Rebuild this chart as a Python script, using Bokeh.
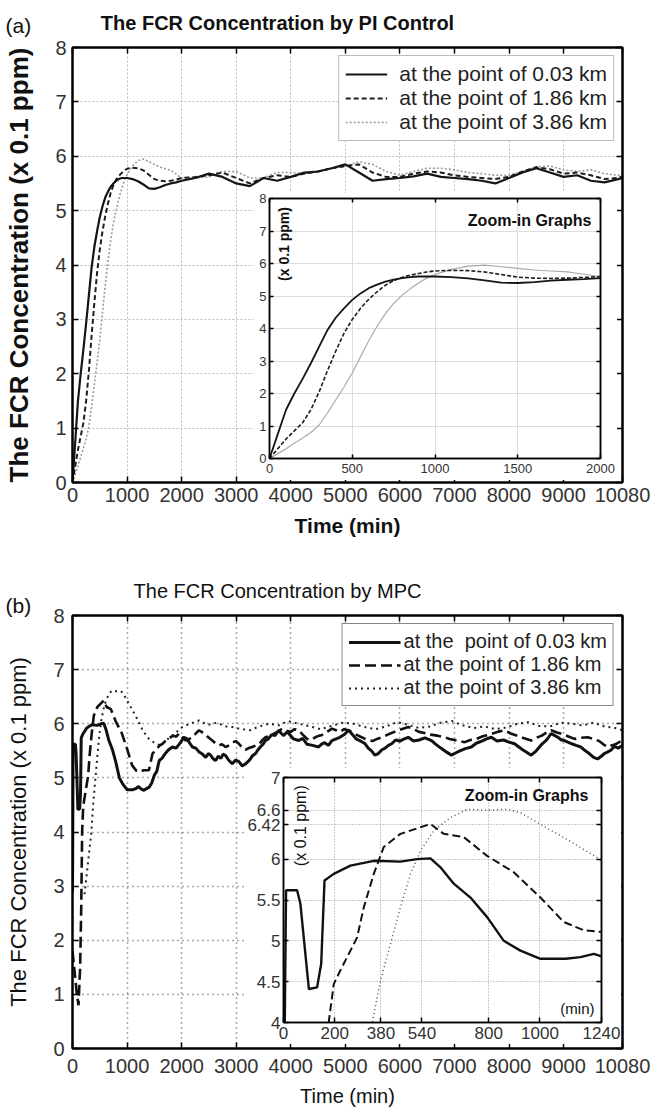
from bokeh.plotting import figure
from bokeh.models import Range1d, FixedTicker, LinearAxis, Label, Legend, LegendItem
from bokeh.layouts import column
from bokeh.embed import file_html
from bokeh.resources import INLINE

FONT = "Liberation Sans"

# ---------------- (a) PI control ----------------
a_time = [0, 50, 100, 150, 200, 250, 300, 350, 400, 450, 500, 550, 600, 650, 700, 750, 800, 850, 900, 950, 1000,
          1100, 1200, 1300, 1400, 1500, 1600, 1700, 1800, 1900, 2000,
          2250, 2500, 2750, 3000, 3250, 3500, 3750, 4000, 4250, 4500, 4750, 5000, 5250, 5500, 5750, 6000,
          6250, 6500, 6750, 7000, 7250, 7500, 7750, 8000, 8250, 8500, 8750, 9000, 9250, 9500, 9750, 10000, 10080]
a_p003 = [0, 0.75, 1.5, 2.0, 2.45, 2.93, 3.44, 3.95, 4.33, 4.62, 4.88, 5.08, 5.24, 5.35, 5.44, 5.5, 5.55, 5.58, 5.6, 5.6, 5.6,
          5.58, 5.54, 5.48, 5.41, 5.4, 5.43, 5.47, 5.5, 5.52, 5.55,
          5.6, 5.68, 5.62, 5.5, 5.45, 5.6, 5.55, 5.62, 5.7, 5.72, 5.78, 5.85, 5.7, 5.55, 5.58, 5.6,
          5.63, 5.68, 5.62, 5.6, 5.58, 5.55, 5.5, 5.6, 5.7, 5.78, 5.7, 5.62, 5.65, 5.55, 5.52, 5.58, 5.6]
a_p186 = [0, 0.3, 0.6, 0.85, 1.1, 1.5, 2.05, 2.7, 3.3, 3.85, 4.28, 4.62, 4.9, 5.13, 5.33, 5.47, 5.57, 5.64, 5.69, 5.74, 5.77,
          5.79, 5.78, 5.74, 5.66, 5.58, 5.55, 5.54, 5.55, 5.57, 5.6,
          5.62, 5.65, 5.7, 5.6, 5.5, 5.6, 5.65, 5.62, 5.68, 5.72, 5.78, 5.82, 5.85, 5.7, 5.62, 5.62,
          5.68, 5.72, 5.7, 5.65, 5.62, 5.6, 5.58, 5.62, 5.72, 5.8, 5.76, 5.68, 5.7, 5.65, 5.58, 5.6, 5.63]
a_p386 = [0, 0.15, 0.3, 0.47, 0.63, 0.8, 1.03, 1.4, 1.8, 2.2, 2.63, 3.13, 3.63, 4.07, 4.46, 4.77, 5.02, 5.22, 5.4, 5.55, 5.66,
          5.82, 5.92, 5.95, 5.9, 5.85, 5.8, 5.77, 5.74, 5.67, 5.6,
          5.6, 5.62, 5.72, 5.72, 5.6, 5.6, 5.7, 5.7, 5.68, 5.72, 5.78, 5.82, 5.9, 5.85, 5.72, 5.65,
          5.72, 5.78, 5.78, 5.75, 5.7, 5.68, 5.65, 5.65, 5.72, 5.8, 5.82, 5.75, 5.72, 5.75, 5.68, 5.65, 5.68]

# ---------------- (b) MPC ----------------
b_p003_t = [0, 5, 10, 53, 66, 99, 131, 147, 160, 196, 261, 352, 456, 521, 573, 612, 664, 729, 794, 859, 924, 1002,
            1100, 1158, 1210, 1240, 1300,
            1406, 1450, 1500, 1545, 1589, 1640, 1700, 1760, 1832, 1900,
            1985, 2040, 2100, 2150, 2197, 2260, 2320, 2380, 2441, 2490,
            2530, 2580, 2624, 2670, 2720, 2760, 2807, 2860, 2928, 2990,
            3050, 3110, 3172, 3215, 3260, 3300, 3355, 3400, 3450, 3490,
            3537, 3590, 3650, 3710, 3780, 3820, 3870, 3920, 3963, 4050,
            4145, 4220, 4300, 4400, 4510, 4560, 4620, 4690, 4754, 4830,
            4900, 4980, 5059, 5130, 5200, 5280, 5363, 5420, 5480, 5540,
            5606, 5670, 5730, 5790, 5850, 5920, 6000, 6080, 6154, 6250,
            6350, 6460, 6580, 6660, 6750, 6850, 6945, 7020, 7100, 7200,
            7310, 7400, 7500, 7590, 7676, 7780, 7900, 8000, 8102, 8180,
            8250, 8330, 8406, 8500, 8600, 8690, 8771, 8840, 8900, 8960,
            9015, 9080, 9150, 9230, 9319, 9400, 9470, 9550, 9624, 9690,
            9750, 9810, 9867, 9930, 10000, 10080]
b_p003_v = [2.9, 4.0, 5.62, 5.62, 5.45, 4.41, 4.43, 4.72, 5.74, 5.82, 5.92, 5.98, 5.97, 6.0, 6.01, 5.9, 5.7, 5.53, 5.29, 5.0, 4.88, 4.78,
            4.78, 4.8, 4.84, 4.81, 4.77,
            4.83, 4.9, 5.05, 5.12, 5.32, 5.36, 5.45, 5.52, 5.57, 5.55,
            5.66, 5.75, 5.72, 5.64, 5.57, 5.55, 5.48, 5.44, 5.38, 5.45,
            5.42, 5.35, 5.32, 5.4, 5.36, 5.44, 5.41, 5.33, 5.26, 5.33,
            5.3, 5.22, 5.26, 5.3, 5.35, 5.41, 5.45, 5.52, 5.58, 5.62,
            5.69, 5.72, 5.8, 5.78, 5.88, 5.83, 5.78, 5.84, 5.82, 5.72,
            5.69, 5.73, 5.62, 5.6, 5.57, 5.62, 5.65, 5.6, 5.69, 5.72,
            5.75, 5.8, 5.88, 5.8, 5.72, 5.68, 5.63, 5.55, 5.5, 5.42,
            5.45, 5.52, 5.55, 5.6, 5.63, 5.7, 5.68, 5.72, 5.75, 5.68,
            5.7, 5.74, 5.69, 5.62, 5.55, 5.48, 5.42, 5.46, 5.5, 5.54,
            5.57, 5.64, 5.68, 5.72, 5.75, 5.68, 5.7, 5.66, 5.63, 5.57,
            5.52, 5.47, 5.42, 5.5, 5.62, 5.7, 5.82, 5.78, 5.75, 5.7,
            5.69, 5.66, 5.63, 5.6, 5.57, 5.5, 5.45, 5.38, 5.35, 5.4,
            5.45, 5.48, 5.51, 5.58, 5.55, 5.6]
b_p186_t = [0, 40, 80, 110, 140, 160, 177, 196, 222, 261, 287, 313, 352, 391, 456, 534, 573, 625, 703, 794, 898, 1002,
            1093, 1171, 1236, 1300, 1400,
            1467, 1530, 1600, 1650, 1711, 1780, 1850, 1900, 1954, 2010,
            2076, 2140, 2200, 2260, 2319, 2380, 2440, 2500, 2562, 2620,
            2680, 2740, 2807, 2870, 2930, 2990, 3050, 3110, 3170, 3230,
            3293, 3360, 3420, 3480, 3537, 3620, 3700, 3770, 3841, 3920,
            4000, 4070, 4145, 4220, 4300, 4370, 4450, 4520, 4600, 4680,
            4754, 4830, 4900, 4980, 5059, 5130, 5200, 5280, 5363, 5430,
            5500, 5580, 5667, 5780, 5900, 6030, 6154, 6250, 6350, 6450,
            6550, 6690, 6824, 6910, 7000, 7090, 7189, 7290, 7400, 7520,
            7650, 7790, 7919, 8030, 8150, 8280, 8406, 8500, 8600, 8690,
            8771, 8880, 9000, 9100, 9200, 9320, 9441, 9550, 9650, 9730,
            9806, 9880, 9950, 10020, 10080]
b_p186_v = [1.8, 1.4, 1.0, 0.8, 1.5, 2.6, 4.02, 4.47, 4.64, 4.88, 5.04, 5.41, 5.82, 6.15, 6.31, 6.39, 6.43, 6.31, 6.27, 6.04, 5.84, 5.53,
            5.23, 5.13, 5.11, 5.14, 5.14,
            5.45, 5.52, 5.6, 5.63, 5.69, 5.74, 5.78, 5.76, 5.82, 5.76,
            5.69, 5.72, 5.75, 5.82, 5.88, 5.84, 5.8, 5.74, 5.69, 5.64,
            5.6, 5.62, 5.57, 5.6, 5.65, 5.68, 5.63, 5.56, 5.52, 5.55,
            5.57, 5.6, 5.62, 5.7, 5.75, 5.78, 5.82, 5.86, 5.91, 5.87,
            5.85, 5.9, 5.88, 5.8, 5.72, 5.7, 5.75, 5.78, 5.8, 5.86,
            5.91, 5.88, 5.85, 5.9, 5.88, 5.84, 5.8, 5.76, 5.72, 5.7,
            5.68, 5.72, 5.75, 5.8, 5.85, 5.9, 5.94, 5.9, 5.85, 5.83,
            5.8, 5.78, 5.75, 5.72, 5.7, 5.68, 5.66, 5.7, 5.72, 5.77,
            5.8, 5.85, 5.88, 5.82, 5.78, 5.73, 5.69, 5.74, 5.78, 5.84,
            5.88, 5.84, 5.8, 5.76, 5.72, 5.74, 5.75, 5.72, 5.68, 5.62,
            5.57, 5.6, 5.62, 5.66, 5.69]
b_p386_t = [220, 280, 346, 378, 417, 456, 495, 534, 586, 651, 716, 794, 872, 924, 989, 1101, 1223, 1284, 1400, 1528,
            1620, 1711, 1850, 2015, 2150, 2319, 2480, 2650, 2800, 2928, 3100, 3250, 3420, 3600, 3780, 3950, 4150,
            4350, 4550, 4750, 4950, 5150, 5350, 5550, 5750, 5950, 6150, 6350, 6550, 6750, 6950, 7150, 7350, 7550,
            7750, 7950, 8150, 8350, 8550, 8750, 8950, 9150, 9350, 9550, 9750, 9950, 10080]
b_p386_v = [2.85, 3.4, 4.0, 4.51, 4.96, 5.41, 5.82, 6.1, 6.35, 6.51, 6.61, 6.6, 6.61, 6.57, 6.45, 6.25, 6.02, 5.88, 5.72, 5.63,
            5.6, 5.69, 5.8, 5.94, 6.0, 6.06, 5.98, 6.02, 5.95, 5.94, 5.9, 5.88, 5.95, 6.0, 5.97, 6.05, 6.0,
            5.95, 5.9, 5.96, 6.02, 6.0, 5.94, 5.9, 5.95, 6.03, 5.98, 5.92, 5.95, 6.02, 6.05, 5.97, 5.92, 5.95,
            5.9, 5.93, 6.0, 6.03, 5.96, 5.95, 6.02, 6.0, 5.97, 6.02, 5.95, 5.92, 5.88]

main_xticks = [0, 1000, 2000, 3000, 4000, 5000, 6000, 7000, 8000, 9000, 10080]
main_yticks = [0, 1, 2, 3, 4, 5, 6, 7, 8]
a_zoom_xticks = [0, 500, 1000, 1500, 2000]
a_zoom_yticks = [0, 1, 2, 3, 4, 5, 6, 7, 8]
b_zoom_xticks = [0, 200, 380, 540, 800, 1000, 1240]
b_zoom_yticks = [4, 4.5, 5, 5.5, 6, 6.42, 6.6, 7]
b_zoom_ylabels = ["4", "4.5", "5", "5.5", "6", "6.42", "6.6", "7"]

legend_a = ["at the point of 0.03 km", "at the point of 1.86 km", "at the point of 3.86 km"]
legend_b = ["at the  point of 0.03 km", "at the point of 1.86 km", "at the point of 3.86 km"]


def frame_axes(p, xt, yt, fs, tin, lw, xstand, ystand, color="#333333", yover=None):
    p.xaxis.ticker = FixedTicker(ticks=xt)
    p.yaxis.ticker = FixedTicker(ticks=yt)
    for ax in list(p.xaxis) + list(p.yaxis):
        ax.major_tick_in = tin
        ax.major_tick_out = 0
        ax.minor_tick_line_color = None
        ax.axis_line_width = lw
        ax.major_tick_line_width = 1.5
        ax.major_label_text_font = FONT
        ax.major_label_text_font_size = fs
        ax.major_label_text_color = color
    p.xaxis.major_label_standoff = xstand
    p.yaxis.major_label_standoff = ystand
    if yover is not None:
        p.yaxis.major_label_overrides = yover
    for ticks, place in ((xt, "above"), (yt, "right")):
        ax = LinearAxis(ticker=FixedTicker(ticks=ticks), major_label_text_font_size="1px",
                        major_label_text_color=None, major_label_standoff=0,
                        major_tick_in=tin, major_tick_out=0,
                        minor_tick_line_color=None, axis_line_width=lw, major_tick_line_width=1.5)
        p.add_layout(ax, place)
    p.outline_line_color = "black"
    p.outline_line_width = lw


def grid(p, color, dash, width):
    for g in (p.xgrid, p.ygrid):
        g.grid_line_color = color
        g.grid_line_dash = dash
        g.grid_line_width = width


def text(p, x, y, s, size, bold=False, align="center", angle=0.0, color="#111111"):
    p.add_layout(Label(x=x, y=y, text=s, text_font=FONT, text_font_size=size,
                       text_font_style="bold" if bold else "normal", text_align=align,
                       text_baseline="middle", angle=angle, text_color=color))


def legend(p, rs, labels, fs, gw, stand, border, bw):
    lg = Legend(items=[LegendItem(label=l, renderers=[r]) for l, r in zip(labels, rs)],
                location="top_right", margin=8, padding=6, spacing=0, glyph_width=gw, glyph_height=20,
                label_height=20, label_standoff=stand, label_text_font=FONT, label_text_font_size=fs,
                label_text_color="#222222", border_line_color=border, border_line_width=bw,
                background_fill_color="white", background_fill_alpha=1.0)
    p.add_layout(lg)


def overlay(width, height):
    o = figure(width=width, height=height, x_range=Range1d(0, width), y_range=Range1d(0, height),
               x_axis_type=None, y_axis_type=None, output_backend="svg", toolbar_location=None,
               min_border=0, background_fill_color=None, border_fill_color=None,
               outline_line_color=None)
    o.xgrid.visible = False
    o.ygrid.visible = False
    return o


# ================= panel (a) =================
pa = figure(width=655, height=568, x_range=Range1d(0, 10080), y_range=Range1d(0, 8),
            output_backend="svg", toolbar_location=None,
            min_border_left=72, min_border_right=33, min_border_top=47, min_border_bottom=86)
grid(pa, "#bdbdbd", "2 2", 1)
r3 = pa.line(a_time, a_p386, line_color="#9a9a9a", line_width=1.6, line_dash="2 2")
r2 = pa.line(a_time, a_p186, line_color="#1e1e1e", line_width=2, line_dash="5 3")
r1 = pa.line(a_time, a_p003, line_color="#151515", line_width=2.2)
pa.xaxis.axis_label = "Time (min)"
pa.yaxis.axis_label = "The FCR Concentration (x 0.1 ppm)"
for ax, sz, st in ((pa.xaxis, "21px", 9), (pa.yaxis, "26px", 18)):
    ax.axis_label_text_font = FONT
    ax.axis_label_text_font_style = "bold"
    ax.axis_label_text_font_size = sz
    ax.axis_label_standoff = st
    ax.axis_label_text_color = "#111111"
frame_axes(pa, main_xticks, main_yticks, "20px", 6, 2, 5, 6)
legend(pa, [r1, r2, r3], legend_a, "21px", 42, 12, "#777777", 1)

# inset (a)
ia = figure(width=364, height=288, x_range=Range1d(0, 2000), y_range=Range1d(0, 8),
            output_backend="svg", toolbar_location=None,
            min_border_left=16, min_border_right=17, min_border_top=6, min_border_bottom=22)
grid(ia, "#dddddd", "solid", 1)
ia.line(a_time, a_p386, line_color="#aaaaaa", line_width=1.2)
ia.line(a_time, a_p186, line_color="#1e1e1e", line_width=1.6, line_dash="4 2")
ia.line(a_time, a_p003, line_color="#151515", line_width=1.8)
frame_axes(ia, a_zoom_xticks, a_zoom_yticks, "13px", 4, 1.5, 5, 3)
text(ia, 1945, 7.32, "Zoom-in Graphs", "16px", bold=True, align="right")
text(ia, 85, 6.6, "(x 0.1 ppm)", "14px", bold=True, angle=1.5708)
ia_box = column(ia, margin=(-376, 0, 88, 253))

# title strip (a)
ta = overlay(655, 45)
text(ta, 277, 23, "The FCR Concentration by PI Control", "20px", bold=True)
text(ta, 5, 20, "(a)", "21px", align="left")
ta_box = column(ta, margin=(-568, 0, 523, 0))

# ================= panel (b) =================
pb = figure(width=655, height=547, x_range=Range1d(0, 10080), y_range=Range1d(0, 8),
            output_backend="svg", toolbar_location=None,
            min_border_left=72, min_border_right=31, min_border_top=47, min_border_bottom=67)
grid(pb, "#555555", "1 4", 1.5)
s3 = pb.line(b_p386_t, b_p386_v, line_color="#222222", line_width=2, line_dash="2 4")
s2 = pb.line(b_p186_t, b_p186_v, line_color="#111111", line_width=2.6, line_dash="11 5")
s1 = pb.line(b_p003_t, b_p003_v, line_color="#111111", line_width=3)
pb.xaxis.axis_label = "Time (min)"
pb.yaxis.axis_label = "The FCR Concentration (x 0.1 ppm)"
for ax, sz, st in ((pb.xaxis, "20px", 9), (pb.yaxis, "22px", 19)):
    ax.axis_label_text_font = FONT
    ax.axis_label_text_font_style = "normal"
    ax.axis_label_text_font_size = sz
    ax.axis_label_standoff = st
    ax.axis_label_text_color = "#111111"
frame_axes(pb, main_xticks, main_yticks, "20px", 6, 2, 10, 8)
legend(pb, [s1, s2, s3], legend_b, "20px", 52, 3, "#111111", 1.5)

# inset (b)
ib = figure(width=377, height=277, x_range=Range1d(0, 1240), y_range=Range1d(4, 7),
            output_backend="svg", toolbar_location=None,
            min_border_left=39, min_border_right=20, min_border_top=10, min_border_bottom=22)
grid(ib, "#999999", "1 2", 1)
ib.line(b_p386_t, b_p386_v, line_color="#555555", line_width=1.5, line_dash="1 3")
ib.line(b_p186_t, b_p186_v, line_color="#111111", line_width=2, line_dash="8 4")
ib.line(b_p003_t, b_p003_v, line_color="#111111", line_width=2.4)
frame_axes(ib, b_zoom_xticks, b_zoom_yticks, "17px", 5, 1.5, 4, 3,
           yover={t: l for t, l in zip(b_zoom_yticks, b_zoom_ylabels)})
text(ib, 1189, 6.78, "Zoom-in Graphs", "16px", bold=True, align="right")
text(ib, 66, 6.41, "(x 0.1 ppm)", "16px", angle=1.5708)
text(ib, 1146, 4.17, "(min)", "15px")
ib_box = column(ib, margin=(-348, 0, 71, 244))

# title strip (b)
tb = overlay(655, 50)
text(tb, 277, 27.5, "The FCR Concentration by MPC", "20px")
text(tb, 5, 13, "(b)", "21px", align="left")
tb_box = column(tb, margin=(-547, 0, 497, 0))

p = column(pa, ia_box, ta_box, pb, ib_box, tb_box, spacing=0)
open("out.html", "w").write(file_html(p, INLINE))
